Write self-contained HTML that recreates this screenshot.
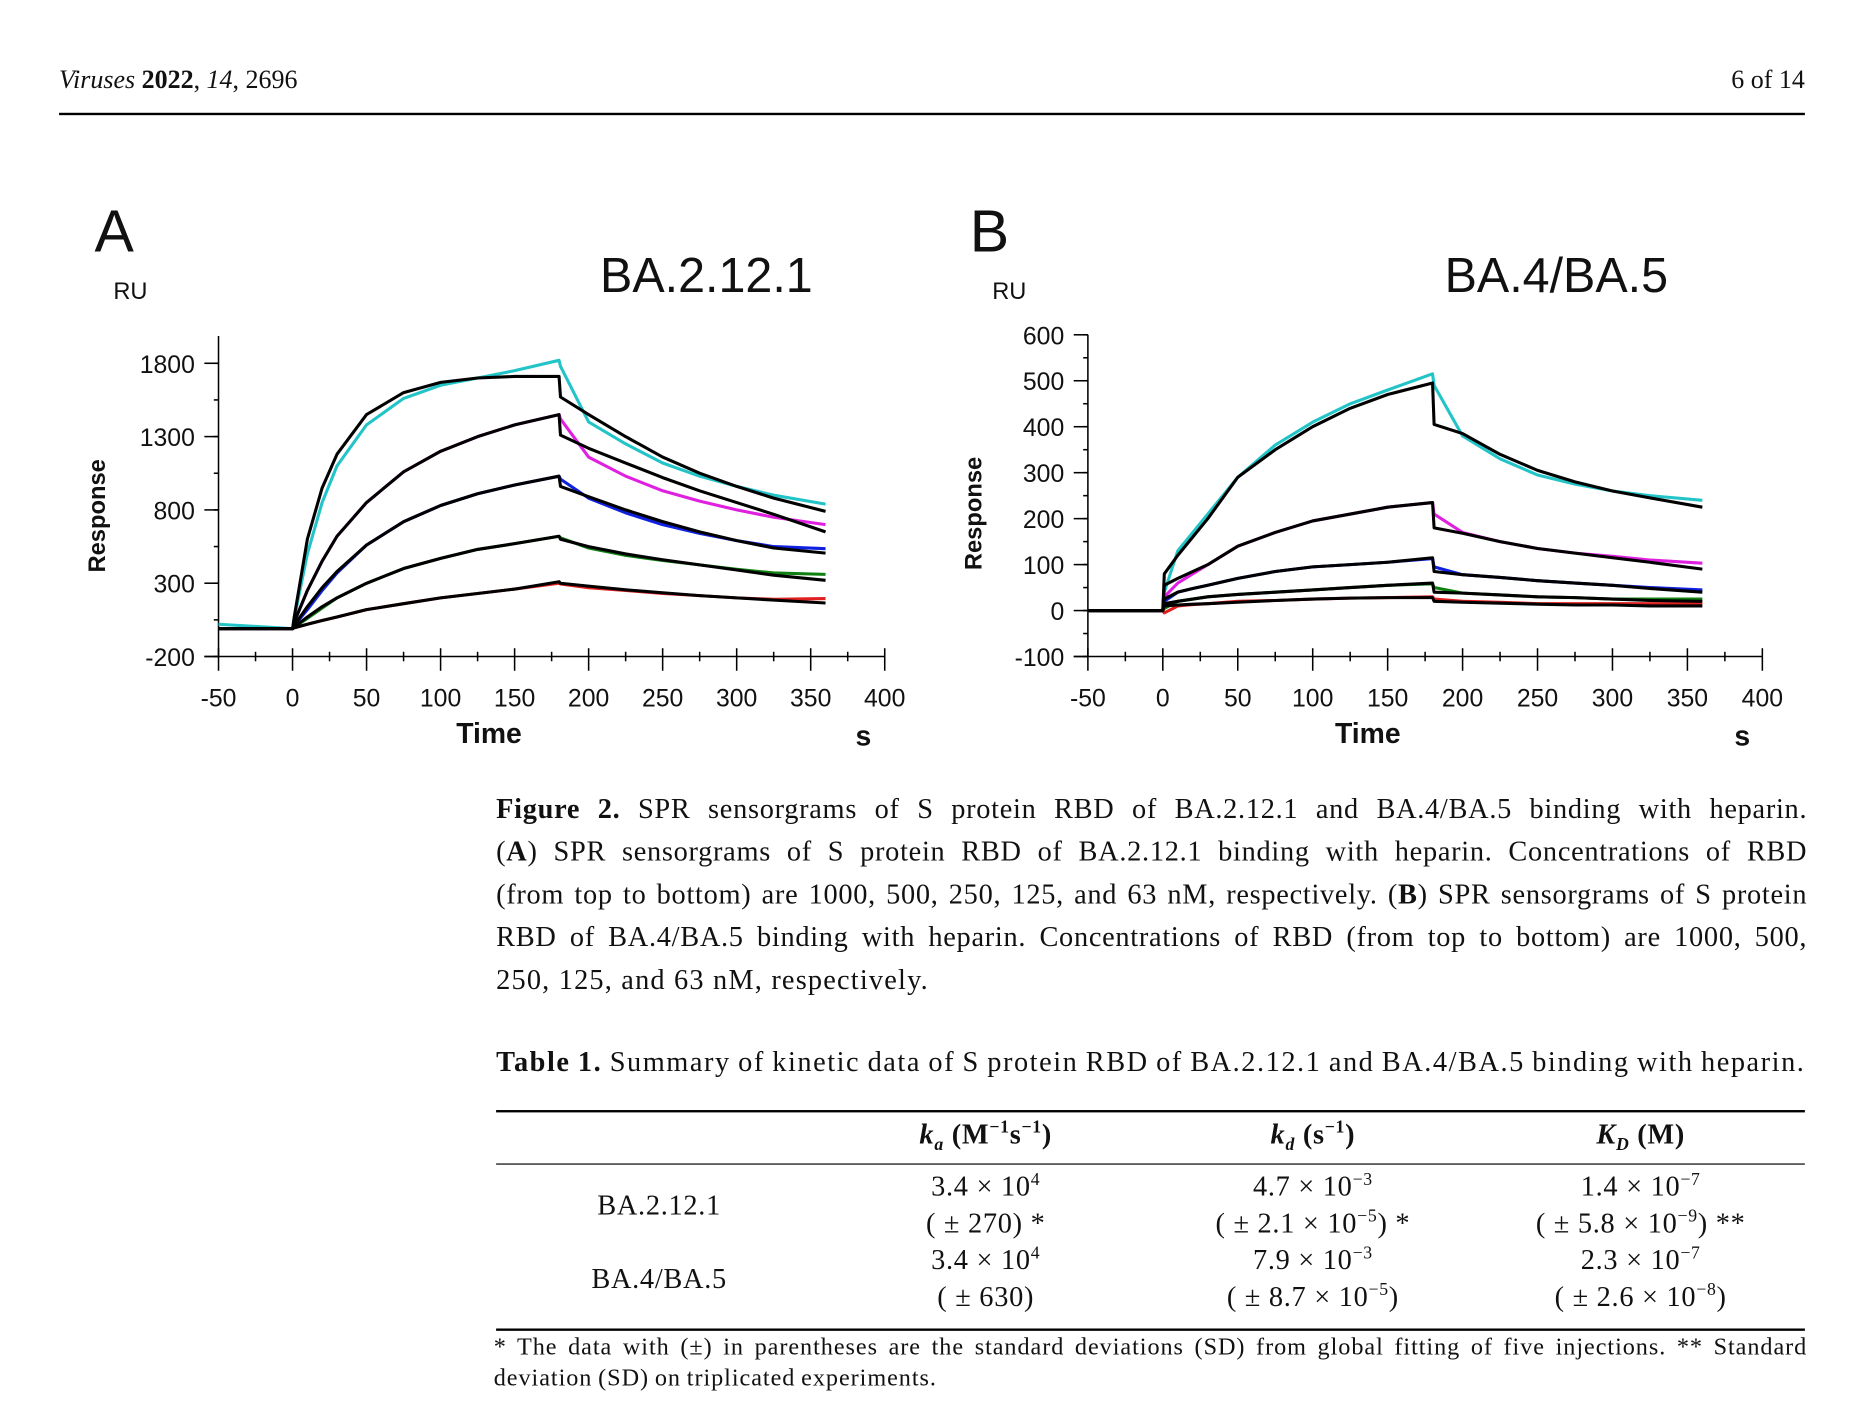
<!DOCTYPE html>
<html><head><meta charset="utf-8">
<style>
html,body{margin:0;padding:0;background:#fff;width:1852px;height:1420px;overflow:hidden}
#pg{position:absolute;left:0;top:0;width:1560px;height:1196px;transform:scale(1.1812,1.1872);transform-origin:0 0;font-family:"Liberation Serif",serif;color:#111}
.abs{position:absolute;white-space:nowrap}
.cap{position:absolute;left:420px;width:1110px;font-size:24px;line-height:36px;white-space:nowrap}
.cap .ln{display:block;text-align:justify;text-align-last:justify;letter-spacing:0.6px}
.cap .last{text-align-last:left;letter-spacing:1px}
table{border-collapse:collapse}
td,th{font-size:24px;letter-spacing:0.6px;text-align:center;font-weight:normal;padding:0;line-height:31px}
sup{font-size:15px;vertical-align:9px;line-height:0}
</style></head><body>
<div id="pg">
<div class="abs" style="left:50px;top:54px;font-size:22px"><i>Viruses</i> <b>2022</b>, <i>14</i>, 2696</div>
<div class="abs" style="right:32px;top:54px;font-size:22px">6 of 14</div>
<div class="abs" style="left:50px;top:95px;width:1478px;height:1.5px;background:#000"></div>

<svg id="charts" class="abs" style="left:0;top:150px" width="1560" height="500" viewBox="0 150 1560 500" font-family="Liberation Sans, Arial, sans-serif"></svg>

<div class="cap" style="top:664px"><span class="ln"><b>Figure 2.</b> SPR sensorgrams of S protein RBD of BA.2.12.1 and BA.4/BA.5 binding with heparin.</span><span class="ln">(<b>A</b>) SPR sensorgrams of S protein RBD of BA.2.12.1 binding with heparin. Concentrations of RBD</span><span class="ln">(from top to bottom) are 1000, 500, 250, 125, and 63 nM, respectively. (<b>B</b>) SPR sensorgrams of S protein</span><span class="ln">RBD of BA.4/BA.5 binding with heparin. Concentrations of RBD (from top to bottom) are 1000, 500,</span><span class="ln last">250, 125, and 63 nM, respectively.</span></div>

<div class="abs" style="left:420px;top:882px;font-size:24px;letter-spacing:1.3px;word-spacing:-1px"><b>Table 1.</b> Summary of kinetic data of S protein RBD of BA.2.12.1 and BA.4/BA.5 binding with heparin.</div>

<div class="abs" style="left:420px;top:935px;width:1108px;height:2px;background:#000"></div>
<div class="abs" style="left:420px;top:980px;width:1108px;height:1px;background:#000"></div>
<div class="abs" style="left:420px;top:1119px;width:1108px;height:2px;background:#000"></div>
<table class="abs" style="left:420px;top:941px;width:1108px">
<tr style="height:40px"><th style="width:276px"></th><th style="width:277px"><b><i>k<sub style="font-size:15px">a</sub></i> (M<sup>−1</sup>s<sup>−1</sup>)</b></th><th style="width:277px"><b><i>k<sub style="font-size:15px">d</sub></i> (s<sup>−1</sup>)</b></th><th style="width:278px"><b><i>K<sub style="font-size:15px">D</sub></i> (M)</b></th></tr>
<tr style="height:4px"><td colspan="4"></td></tr>
<tr><td rowspan="2">BA.2.12.1</td><td>3.4 × 10<sup>4</sup></td><td>4.7 × 10<sup>−3</sup></td><td>1.4 × 10<sup>−7</sup></td></tr>
<tr><td>( ± 270) *</td><td>( ± 2.1 × 10<sup>−5</sup>) *</td><td>( ± 5.8 × 10<sup>−9</sup>) **</td></tr>
<tr><td rowspan="2">BA.4/BA.5</td><td>3.4 × 10<sup>4</sup></td><td>7.9 × 10<sup>−3</sup></td><td>2.3 × 10<sup>−7</sup></td></tr>
<tr><td>( ± 630)</td><td>( ± 8.7 × 10<sup>−5</sup>)</td><td>( ± 2.6 × 10<sup>−8</sup>)</td></tr>
</table>
<div class="abs" style="left:418px;top:1122px;width:1112px;white-space:normal;font-size:20.5px;letter-spacing:0.8px;word-spacing:-1px;line-height:26px;text-align:justify">* The data with (±) in parentheses are the standard deviations (SD) from global fitting of five injections. ** Standard deviation (SD) on triplicated experiments.</div>
</div>

<script>
const times=[-50,0,1,10,20,30,50,75,100,125,150,180,181,200,225,250,275,300,325,360];
const seriesColors=['#22c4c8','#e020e0','#1020e0','#108010','#e02020'];
const seriesNames=['1000nM','500nM','250nM','125nM','63nM'];
// Chart A observed / fitted
const aCyanObs=[20,-10,50,500,850,1100,1380,1560,1650,1700,1750,1820,1780,1400,1250,1120,1030,960,900,840];
const aCyanFit=[-10,-10,60,600,950,1180,1450,1600,1670,1700,1710,1710,1570,1450,1300,1160,1050,960,880,790];
const aMagObs=[-10,-10,30,250,450,620,850,1060,1200,1300,1380,1450,1420,1160,1030,930,860,800,750,700];
const aMagFit=[-10,-10,30,250,450,620,850,1060,1200,1300,1380,1450,1310,1220,1120,1020,930,850,770,650];
const aBlueObs=[-10,-10,10,120,250,370,560,720,830,910,970,1030,1010,880,780,700,640,590,550,535];
const aBlueFit=[-10,-10,10,140,270,380,560,720,830,910,970,1030,960,890,800,720,650,590,540,505];
const aGreenObs=[-10,-10,0,60,130,200,300,400,470,530,570,620,610,540,490,455,425,395,370,360];
const aGreenFit=[-10,-10,0,70,140,200,300,400,470,530,570,620,600,550,500,460,425,390,355,320];
const aRedObs=[-10,-10,-5,20,45,70,120,160,200,230,260,300,295,270,250,230,215,200,190,195];
const aRedFit=[-10,-10,-5,20,45,70,120,160,200,230,260,310,300,280,255,235,215,200,185,165];
// Chart B
const bCyanObs=[0,0,40,130,170,210,290,360,410,450,480,515,490,380,330,295,275,260,250,240];
const bCyanFit=[0,0,80,120,160,200,290,350,400,440,470,495,405,385,340,305,280,260,245,225];
const bMagObs=[0,0,30,60,80,100,140,170,195,210,225,235,210,170,150,135,125,118,110,103];
const bMagFit=[0,0,55,70,85,100,140,170,195,210,225,235,180,168,150,135,125,115,105,90];
const bBlueObs=[0,0,20,40,48,55,70,85,95,100,105,113,95,78,72,65,60,55,50,45];
const bBlueFit=[0,0,25,40,48,55,70,85,95,100,105,115,85,78,72,65,60,55,48,40];
const bGreenObs=[0,0,5,20,25,30,35,40,45,50,55,58,50,38,34,30,28,25,25,25];
const bGreenFit=[0,0,15,20,25,30,35,40,45,50,55,60,40,38,34,30,28,25,22,20];
const bRedObs=[0,0,-5,10,13,15,20,22,25,27,28,30,25,20,18,15,15,15,15,15];
const bRedFit=[0,0,10,12,14,15,18,22,25,27,28,28,20,18,16,14,12,12,10,10];
const xTicks=[-50,0,50,100,150,200,250,300,350,400];
const aYTicks=[-200,300,800,1300,1800];
const bYTicks=[-100,0,100,200,300,400,500,600];

const NS='http://www.w3.org/2000/svg';
const svg=document.getElementById('charts');
function mk(tag,attrs,parent,text){const e=document.createElementNS(NS,tag);for(const k in attrs)e.setAttribute(k,attrs[k]);if(text!==undefined)e.textContent=text;(parent||svg).appendChild(e);return e;}

function chart(cfg){
  const g=mk('g',{});
  
  
  const X=t=>cfg.x0+(t-(-50))/450*(cfg.x1-cfg.x0);
  const Y=v=>cfg.yb+(v-cfg.ymin)/(cfg.ymax-cfg.ymin)*(cfg.yt-cfg.yb);
  const axC='#000';
  const ya=mk('line',{x1:cfg.x0,y1:cfg.ytop,x2:cfg.x0,y2:cfg.yb,stroke:axC,'stroke-width':1.3},g);
  
  
  const xa=mk('line',{x1:cfg.x0-12,y1:cfg.yb,x2:cfg.x1,y2:cfg.yb,stroke:axC,'stroke-width':1.3},g);
  
  
  for(let t=-50;t<=400;t+=25){
    const maj=(t%50===0);
    mk('line',{x1:X(t),y1:cfg.yb-(maj?7:4),x2:X(t),y2:cfg.yb+(maj?12:4),stroke:axC,'stroke-width':1.3},g);
  }
  xTicks.forEach(t=>{
    const l=mk('text',{x:X(t),y:cfg.yb+42,'font-size':21,'text-anchor':'middle',fill:'#111'},g,String(t));
    
    
  });
  for(let v=cfg.ymin;v<=cfg.ymax+0.1;v+=cfg.minor){
    mk('line',{x1:cfg.x0-4,y1:Y(v),x2:cfg.x0,y2:Y(v),stroke:axC,'stroke-width':1.3},g);
  }
  cfg.yTicks.forEach(v=>{
    mk('line',{x1:cfg.x0-12,y1:Y(v),x2:cfg.x0,y2:Y(v),stroke:axC,'stroke-width':1.3},g);
    const l=mk('text',{x:cfg.x0-20,y:Y(v)+8,'font-size':21,'text-anchor':'end',fill:'#111'},g,String(v));
    
    
  });
  const pts=arr=>arr.map((v,i)=>X(times[i]).toFixed(1)+','+Y(v).toFixed(1)).join(' ');
  cfg.obs.forEach((arr,i)=>{
    const p=mk('polyline',{points:pts(arr),fill:'none',stroke:seriesColors[i],'stroke-width':2.6,'stroke-linejoin':'round'},g);
    
    
  });
  cfg.fit.forEach((arr,i)=>{
    const p=mk('polyline',{points:pts(arr),fill:'none',stroke:'#000','stroke-width':2.6,'stroke-linejoin':'round'},g);
    
    
  });
  const L=(txt,x,y,size,w,name,anchor)=>{const t=mk('text',{x:x,y:y,'font-size':size,'font-weight':w||'normal','text-anchor':anchor||'start',fill:'#111'},g,txt);return t;};
  L(cfg.letter,cfg.letterX,212,50,'normal','panel-letter');
  L('RU',cfg.ruX,252,20,'normal','y-unit-label');
  L(cfg.title,cfg.titleX,246,41,'normal','chart-title');
  L('Time',cfg.timeX,626,24,'bold','x-axis-title','middle');
  L('s',cfg.sX,628,24,'bold','x-unit-label','middle');
  const r=L('Response',0,0,20,'bold','y-axis-title','middle');
  r.setAttribute('transform','translate('+cfg.respX+','+((cfg.yt+cfg.yb)/2+ (cfg.respDy||0))+') rotate(-90)');
}
chart({id:'chart-ba2121',x0:185,x1:749,yb:553,yt:306,ymin:-200,ymax:1800,ytop:283,minor:250,yTicks:aYTicks,
  obs:[aCyanObs,aMagObs,aBlueObs,aGreenObs,aRedObs],fit:[aCyanFit,aMagFit,aBlueFit,aGreenFit,aRedFit],
  letter:'A',letterX:80,ruX:96,title:'BA.2.12.1',titleX:508,respX:89,respDy:5,timeX:414,sX:731});
chart({id:'chart-ba4ba5',x0:921,x1:1492,yb:553,yt:282,ymin:-100,ymax:600,ytop:282,minor:50,yTicks:bYTicks,
  obs:[bCyanObs,bMagObs,bBlueObs,bGreenObs,bRedObs],fit:[bCyanFit,bMagFit,bBlueFit,bGreenFit,bRedFit],
  letter:'B',letterX:821,ruX:840,title:'BA.4/BA.5',titleX:1223,respX:831,respDy:15,timeX:1158,sX:1475});
</script>
</body></html>
